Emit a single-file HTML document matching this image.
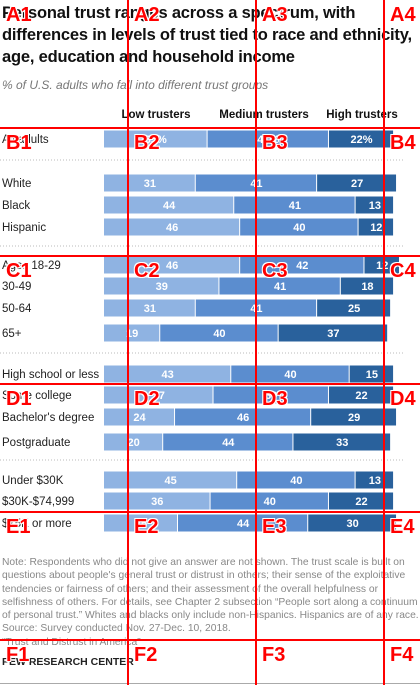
<!DOCTYPE html>
<html><head><meta charset="utf-8">
<style>
body{margin:0;width:420px;height:685px;overflow:hidden;background:#fff;font-family:"Liberation Sans",Arial,sans-serif;position:relative}
.t{position:absolute;left:2px;top:2px;width:418px;font-size:16.5px;font-weight:bold;line-height:22px;color:#111;letter-spacing:-0.2px}
.sub{position:absolute;left:2px;top:78px;font-size:12px;font-style:italic;color:#777}
.note{position:absolute;left:2px;top:556px;width:418px;font-size:10.3px;line-height:13.3px;color:#888}
.pew{position:absolute;left:2px;top:656px;font-size:10.5px;font-weight:bold;color:#222}
.bot{position:absolute;left:0;top:683px;width:420px;height:1px;background:#aaa}
svg{position:absolute;left:0;top:0}
.g{position:absolute;background:#f00}
.gl{position:absolute;color:#f00;font-weight:bold;font-size:20px;text-shadow:-1px -1px 0 #fff,1px -1px 0 #fff,-1px 1px 0 #fff,1px 1px 0 #fff}
</style></head><body>
<div class="t">Personal trust ranges across a spectrum, with differences in levels of trust tied to race and ethnicity, age, education and household income</div>
<div class="sub">% of U.S. adults who fall into different trust groups</div>
<svg id="chart" width="420" height="550"></svg>
<div class="note">Note: Respondents who did not give an answer are not shown. The trust scale is built on questions about people's general trust or distrust in others; their sense of the exploitative tendencies or fairness of others; and their assessment of the overall helpfulness or selfishness of others. For details, see Chapter 2 subsection “People sort along a continuum of personal trust.” Whites and blacks only include non-Hispanics. Hispanics are of any race.<br>Source: Survey conducted Nov. 27-Dec. 10, 2018.<br>“Trust and Distrust in America”</div>
<div class="pew">PEW RESEARCH CENTER</div>
<div class="bot"></div>
<div id="grid"></div>
<script>
const categories=["All adults","White","Black","Hispanic","Ages 18-29","30-49","50-64","65+","High school or less","Some college","Bachelor's degree","Postgraduate","Under $30K","$30K-$74,999","$75K or more"];
const lowVals=[35,31,44,46,46,39,31,19,43,37,24,20,45,36,25];
const medVals=[41,41,41,40,42,41,41,40,40,39,46,44,40,40,44];
const highVals=[22,27,13,12,12,18,25,37,15,22,29,33,13,22,30];
const rowY=[139,183,205,227,265,286,308,333,374,395,417,442,480,501,523];
const seps=[160,246,353,460];
const NS="http://www.w3.org/2000/svg";
const svg=document.getElementById('chart');
const x0=104,scale=2.96,bh=17;
const xs=v=>v*scale;
function mk(t,a){const e=document.createElementNS(NS,t);for(const k in a)e.setAttribute(k,a[k]);svg.appendChild(e);return e;}
const hdr=[["Low trusters",156],["Medium trusters",264],["High trusters",362]];
hdr.forEach(h=>{const e=mk('text',{x:h[1],y:118,'font-size':'11.5','font-weight':'bold','text-anchor':'middle',fill:'#111'});e.textContent=h[0];

});
seps.forEach(y=>{const l=mk('line',{x1:0,x2:405,y1:y,y2:y,stroke:'#bbb','stroke-dasharray':'1,2'});

});
const cols=["#8fb3e2","#5b8dcf","#29619c"];
categories.forEach((c,i)=>{
 const y=rowY[i];
 const lb=mk('text',{x:2,y:y+4,'font-size':'11.5',fill:'#222'});lb.textContent=c;
 
 
 const vals=[lowVals[i],medVals[i],highVals[i]];let x=x0;
 vals.forEach((v,j)=>{
  const r=mk('rect',{x:x,y:y-bh/2,width:xs(v)-1,height:bh,fill:cols[j]});
  
  
  const t=mk('text',{x:x+xs(v)/2,y:y+4,'font-size':'11','font-weight':'bold','text-anchor':'middle',fill:'#fff'});
  t.textContent=i===0?v+'%':v;
  
  
  x+=xs(v);
 });
});
const g=document.getElementById('grid');
[128,256,384].forEach(x=>{const d=document.createElement('div');d.className='g';d.style.cssText=`left:${x-1}px;top:0;width:2px;height:685px`;

g.appendChild(d);});
[128,256,384,512,640].forEach(y=>{const d=document.createElement('div');d.className='g';d.style.cssText=`left:0;top:${y-1}px;width:420px;height:2px`;

g.appendChild(d);});
"ABCDEF".split('').forEach((r,ri)=>[0,1,2,3].forEach(ci=>{const d=document.createElement('div');d.className='gl';d.textContent=r+(ci+1);
d.style.left=(ci*128+6)+'px';d.style.top=(ri*128+4)+'px';

g.appendChild(d);}));
</script>
</body></html>
